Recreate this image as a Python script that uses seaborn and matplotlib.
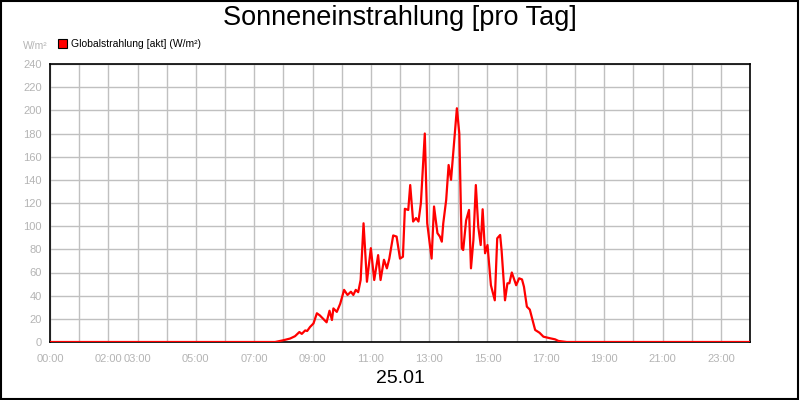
import matplotlib
matplotlib.use("Agg")
import matplotlib.pyplot as plt
from matplotlib.patches import Patch, Rectangle
import numpy as np
import pandas as pd
import seaborn as sns

zeiten = ["00:00", "07:43", "08:00", "08:14", "08:24", "08:33", "08:38", "08:45",
          "08:49", "08:55", "09:02", "09:09", "09:15", "09:22", "09:29", "09:35",
          "09:40", "09:43", "09:50", "09:57", "10:05", "10:12", "10:19", "10:24",
          "10:29", "10:34", "10:39", "10:45", "10:52", "11:00", "11:07", "11:15",
          "11:20", "11:27", "11:33", "11:38", "11:46", "11:53", "12:00", "12:06",
          "12:10", "12:17", "12:21", "12:27", "12:33", "12:38", "12:43", "12:51",
          "12:56", "13:05", "13:10", "13:17", "13:22", "13:26", "13:29", "13:35",
          "13:40", "13:45", "13:57", "14:02", "14:07", "14:10", "14:16", "14:22",
          "14:26", "14:31", "14:36", "14:41", "14:46", "14:50", "14:55", "15:00",
          "15:07", "15:15", "15:20", "15:26", "15:29", "15:36", "15:41", "15:45",
          "15:50", "15:59", "16:05", "16:11", "16:15", "16:21", "16:27", "16:38",
          "16:47", "16:55", "17:09", "17:19", "17:26", "17:43", "24:00"]
strahlung = [0, 0, 1.5, 3, 5, 8.6, 7, 10,
             9.5, 13, 16, 24.8, 23, 20, 17, 27,
             19, 29, 26, 33, 45, 40.6, 43.4, 40.6,
             45, 43, 53.5, 102.5, 52, 81, 53.5, 75,
             53.5, 71, 63.6, 72, 92, 91, 72, 73.6,
             115, 114, 135.5, 104, 107, 104, 120, 180,
             102.5, 72, 117, 94, 91, 86.6, 102.5, 122.6,
             152.8, 140, 201.8, 180, 81, 79.4, 105, 114,
             63.6, 88, 135.5, 99.5, 83.7, 114.6, 76.6, 83.7,
             49, 36, 89.5, 92.4, 79, 36, 50.7, 50.7,
             60, 49, 55, 54, 47.7, 30.5, 28, 10.4,
             8, 4.6, 3.2, 2.3, 0.9, 0, 0]

tick_stunden = [0, 2, 3, 5, 7, 9, 11, 13, 15, 17, 19, 21, 23]
tick_labels = ["00:00", "02:00", "03:00", "05:00", "07:00", "09:00", "11:00",
               "13:00", "15:00", "17:00", "19:00", "21:00", "23:00"]

df = pd.DataFrame({"zeit": zeiten, "wert": strahlung})
df["stunde"] = df["zeit"].apply(lambda s: int(s[:2]) + int(s[3:]) / 60)

sns.set_style("white")
plt.rcParams["font.family"] = ["Liberation Sans", "DejaVu Sans"]

grau = "#b4b4b4"
fig = plt.figure(figsize=(8, 4), dpi=100)
ax = fig.add_axes([0.0625, 0.145, 0.875, 0.695])

sns.lineplot(data=df, x="stunde", y="wert", ax=ax, color="#ff0000",
             linewidth=1.6, legend=False, zorder=3)

ax.set_xlim(0, 24)
ax.set_ylim(0, 240)
# beschriftete Stunden als Major-Ticks, alle Stunden als Minor-Ticks
ax.set_xticks(tick_stunden)
ax.set_xticklabels(tick_labels)
ax.set_xticks(range(0, 25), minor=True)
ax.set_yticks(np.arange(0, 241, 20))
ax.grid(True, which="both", axis="x", color="#c0c0c0", linewidth=1)
ax.grid(True, which="major", axis="y", color="#c0c0c0", linewidth=1)
ax.tick_params(axis="x", which="both", length=5, color=grau, width=1, direction="out")
ax.tick_params(axis="x", which="major", labelsize=8, labelcolor=grau, pad=4)
ax.tick_params(axis="y", length=4, color=grau, width=1, labelsize=8, labelcolor=grau, pad=2)
ax.set_xlabel("")
ax.set_ylabel("")
for s in ax.spines.values():
    s.set_visible(True)
    s.set_color("black")
    s.set_linewidth(1.2)

fig.text(0.5, 0.955, "Sonneneinstrahlung [pro Tag]", ha="center", va="center",
         fontsize=19.5, color="black")
fig.text(0.5, 0.053, "25.01", ha="center", va="center", fontsize=14, color="black")
fig.text(0.06, 0.885, "W/m²", ha="right", va="center", fontsize=7.5, color=grau)

leg = fig.legend(handles=[Patch(facecolor="#ff0000", edgecolor="black", linewidth=0.8,
                                label="Globalstrahlung [akt] (W/m²)")],
                 loc="center left", bbox_to_anchor=(0.072, 0.89), frameon=False,
                 fontsize=7.5, handlelength=0.9, handleheight=0.9, handletextpad=0.4,
                 borderpad=0, borderaxespad=0)
for t in leg.get_texts():
    t.set_color("black")

fig.patches.append(Rectangle((0.001, 0.002), 0.997, 0.996, transform=fig.transFigure,
                             fill=False, edgecolor="black", linewidth=1.5))

fig.savefig("out.png", dpi=100)
